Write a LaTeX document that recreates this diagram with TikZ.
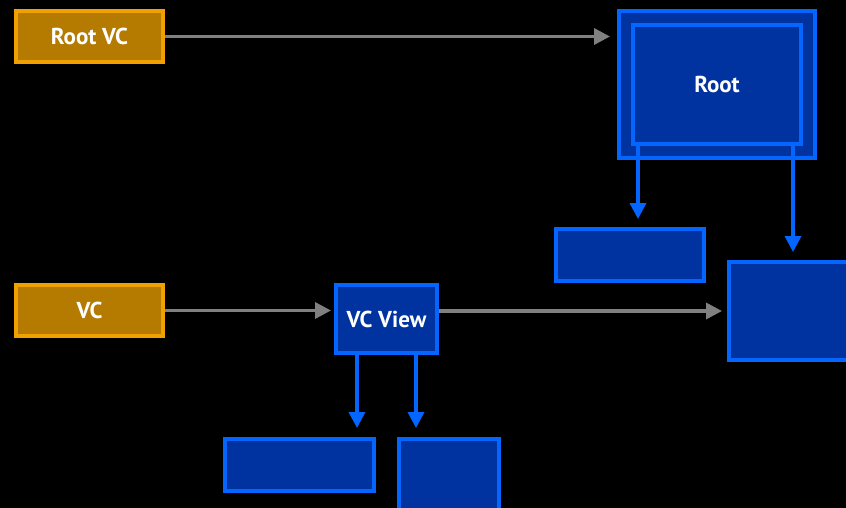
\documentclass[tikz,border=0pt]{standalone}
\usepackage{fontspec}
\setmainfont{PT Sans}
\usetikzlibrary{arrows.meta}

\definecolor{vcfill}{RGB}{181,122,0}
\definecolor{vcline}{RGB}{240,160,0}
\definecolor{viewfill}{RGB}{0,51,160}
\definecolor{viewline}{RGB}{5,102,255}
\definecolor{linkgray}{RGB}{128,128,128}

\begin{document}
\begin{tikzpicture}[x=1pt,y=-1pt,
    every node/.style={rectangle,draw,line width=4pt,inner sep=0pt,text=white,font=\fontsize{23}{26}\selectfont\bfseries},
    vcbox/.style={draw=vcline,fill=vcfill,minimum width=147pt,minimum height=51pt},
    viewbox/.style={draw=viewline,fill=viewfill},
    link/.style={draw=linkgray,line width=3.5pt,-{Triangle[width=16pt,length=16pt]}},
    sub/.style={draw=viewline,line width=3.5pt,-{Triangle[width=16pt,length=16pt]}}]
      % Fondo
      \fill[black] (0,0) rectangle (846,508);
      \clip (0,0) rectangle (846,508);
      % Controladores
      \node[vcbox] (rootvc) at (89.5,36.5) {Root VC};
      \node[vcbox] (vc) at (89.5,310.5) {VC};
      % Jerarquia de vistas
      \node[viewbox,minimum width=196pt,minimum height=147pt] (rootout) at (717,84.5) {};
      \node[viewbox,minimum width=168pt,minimum height=119pt] (root) at (717,84.5) {Root};
      \node[viewbox,minimum width=148pt,minimum height=52pt] (rootsub) at (630,255) {};
      \node[viewbox,minimum width=149pt,minimum height=98pt] (host) at (803.5,311) {};
      \node[viewbox,minimum width=101pt,minimum height=68pt] (vcview) at (386.5,319) {VC View};
      \node[viewbox,minimum width=149pt,minimum height=52pt] (subl) at (299.5,465) {};
      \node[viewbox,minimum width=100pt,minimum height=79pt] (subr) at (449,478.5) {};
      % Enlaces
      \draw[link,shorten >=7pt] (rootvc.east) -- (rootvc.east -| rootout.west);
      \draw[link,shorten >=3pt] (vc.east) -- (vc.east -| vcview.west);
      \draw[link,shorten >=5pt] (vcview.east |- host.west) -- (host.west);
      \draw[sub,shorten >=8pt] ([xshift=7pt]root.south west) -- ([xshift=7pt]root.south west |- rootsub.north);
      \draw[sub,shorten >=8pt] ([xshift=-10pt]root.south east) -- ([xshift=-10pt]root.south east |- host.north);
      \draw[sub,shorten >=9pt] ([xshift=23pt]vcview.south west) -- ([xshift=23pt]vcview.south west |- subl.north);
      \draw[sub,shorten >=9pt] ([xshift=-23pt]vcview.south east) -- ([xshift=-23pt]vcview.south east |- subr.north);
    \end{tikzpicture}
\end{document}
